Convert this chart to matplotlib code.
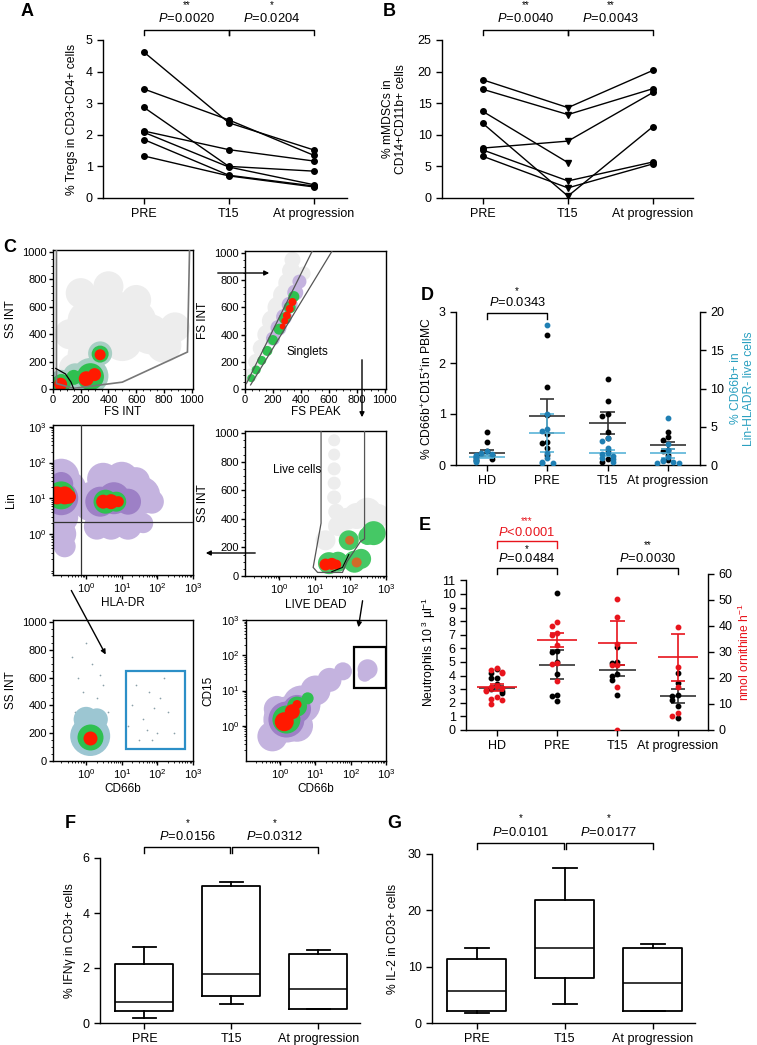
import numpy as np
import matplotlib
matplotlib.use("Agg")
import matplotlib.pyplot as plt
from matplotlib.patches import Polygon, Rectangle, FancyArrowPatch
from matplotlib.ticker import MultipleLocator
from matplotlib.transforms import blended_transform_factory

plt.rcParams['font.family'] = ['Liberation Sans', 'DejaVu Sans']
plt.rcParams['mathtext.fontset'] = 'custom'
plt.rcParams['mathtext.rm'] = 'Liberation Sans'
plt.rcParams['mathtext.it'] = 'Liberation Sans:italic'
plt.rcParams['mathtext.bf'] = 'Liberation Sans:bold'
plt.rcParams['axes.linewidth'] = 1.0
plt.rcParams['xtick.direction'] = 'out'
plt.rcParams['ytick.direction'] = 'out'

# ---------------- data ----------------
timepoints = ["PRE", "T15", "At progression"]
groups4 = ["HD", "PRE", "T15", "At progression"]

# A: % Tregs in CD3+CD4+ cells, one row per patient (PRE, T15, progression)
tregs = [[4.62, 2.38, 1.52],
         [3.45, 2.47, 1.35],
         [2.87, 1.00, 0.85],
         [2.12, 1.53, 1.17],
         [2.08, 0.98, 0.42],
         [1.85, 0.72, 0.38],
         [1.33, 0.70, 0.35]]

# B: % mMDSCs in CD14+CD11b+ cells
mdsc = [[18.7, 14.3, 20.2],
        [17.2, 13.2, 17.3],
        [7.9, 9.0, 16.7],
        [13.7, 5.6, np.nan],
        [11.8, 0.3, 11.3],
        [7.6, 2.7, 5.7],
        [6.6, 1.6, 5.4]]

# D: CD66b+CD15+ in PBMC (left, black) and CD66b+ in Lin-HLADR- (right, blue)
d_black = [[0.65, 0.45, 0.27, 0.22, 0.2, 0.18, 0.15, 0.12, 0.1],
           [2.55, 1.53, 0.98, 0.6, 0.45, 0.43, 0.33, 0.2],
           [1.69, 1.25, 1.0, 0.97, 0.65, 0.53, 0.3, 0.12, 0.05],
           [0.65, 0.55, 0.5, 0.3, 0.28, 0.2, 0.1]]
d_black_mean = [0.24, 0.96, 0.82, 0.39]
d_black_sem = [0.06, 0.33, 0.22, 0.07]
d_blue = [[1.8, 1.6, 1.5, 1.3, 1.2, 1.0, 0.9, 0.7, 0.5, 0.4],
          [18.3, 6.7, 4.7, 4.4, 1.6, 0.9, 0.4, 0.3, 0.2],
          [3.5, 3.2, 2.2, 1.6, 1.5, 1.2, 0.9, 0.8, 0.4],
          [6.1, 2.8, 1.9, 1.1, 0.7, 0.5, 0.4, 0.3, 0.3]]
d_blue_mean = [1.1, 4.2, 1.55, 1.55]
d_blue_sem = [0.2, 2.5, 0.35, 0.6]

# E: neutrophils (left, black) and arginase activity (right, red)
e_black = [[4.5, 4.2, 3.85, 3.85, 3.4, 3.1, 3.0, 2.9, 2.7],
           [10.1, 5.8, 5.75, 5.0, 4.1, 2.55, 2.5, 2.1],
           [6.1, 5.0, 4.95, 4.1, 4.0, 3.7, 2.55],
           [4.2, 3.45, 2.6, 2.5, 2.2, 1.8, 0.85]]
e_black_mean = [3.1, 4.8, 4.4, 2.5]
e_black_sem = [0.15, 1.05, 0.4, 0.55]
e_red = [[24, 23, 22.5, 22, 17, 16.5, 16, 15.5, 15, 12.7, 12, 11.5, 10],
         [41.5, 40, 37.3, 36.5, 32.7, 25.8, 25.5, 19],
         [50.4, 43.5, 33, 25, 25, 16.5, 0],
         [39.6, 24.2, 16.5, 6.5, 5.4]]
e_red_mean = [16.4, 34.6, 33.5, 28.0]
e_red_sem = [1.4, 2.6, 8.5, 9.0]

# F, G: box plot stats (whisker low, q1, median, q3, whisker high)
ifng_box = [[0.18, 0.45, 0.75, 2.15, 2.75],
            [0.68, 1.0, 1.78, 5.0, 5.12],
            [0.52, 0.52, 1.25, 2.5, 2.65]]
il2_box = [[1.8, 2.2, 5.6, 11.4, 13.4],
           [3.3, 7.9, 13.4, 21.8, 27.5],
           [2.2, 2.2, 7.1, 13.4, 14.0]]

# C: flow cytometry density clusters (x, y, diameter px), by density level
p1_haze = [(150, 150, 30), (250, 250, 40), (350, 400, 45), (250, 500, 40), (450, 550, 45),
           (600, 500, 40), (700, 400, 40), (800, 320, 35), (880, 450, 30), (500, 350, 40),
           (200, 700, 30), (400, 750, 30), (120, 400, 30), (600, 650, 30), (300, 620, 35)]
p1_teal = [(340, 260, 24), (270, 95, 36), (60, 45, 26), (160, 100, 24), (120, 60, 20)]
p1_green = [(340, 255, 17), (270, 90, 27), (60, 40, 19), (150, 85, 15)]
p1_red = [(340, 250, 11), (240, 75, 15), (300, 105, 13), (55, 35, 13)]

p2_haze = [(340, 950, 16), (330, 870, 18), (310, 780, 20), (280, 690, 22), (240, 600, 22),
           (200, 500, 22), (160, 400, 20), (120, 300, 18), (80, 200, 16), (40, 100, 14),
           (420, 850, 14)]
p2_purple = [(390, 790, 14), (360, 710, 16), (320, 620, 16), (280, 530, 16), (240, 450, 16),
             (200, 370, 14)]
p2_green = [(350, 680, 11), (320, 600, 12), (285, 520, 12), (245, 440, 11), (200, 360, 10),
            (160, 280, 10), (120, 210, 9), (80, 140, 9), (45, 80, 8)]
p2_red = [(340, 640, 8), (320, 590, 8), (300, 540, 8), (285, 500, 7), (270, 460, 6)]

p3_haze = [(0.2, 1, 30), (0.25, 0.45, 22), (0.2, 3, 34), (0.2, 10, 44), (0.2, 40, 36),
           (0.35, 20, 32), (2, 1.6, 26), (5, 1.7, 28), (15, 1.7, 28), (40, 2, 20),
           (1.5, 8, 40), (4, 12, 44), (12, 10, 46), (35, 12, 38), (70, 8, 24),
           (3, 35, 32), (10, 35, 34), (25, 30, 28)]
p3_purple = [(0.2, 10, 34), (0.2, 25, 24), (2.5, 8, 30), (6, 10, 32), (15, 8, 26)]
p3_green = [(0.2, 12, 28), (3.5, 8, 24), (7, 8, 20)]
p3_red = [(0.15, 12, 18), (0.25, 12, 18), (0.33, 11, 14), (3, 8, 14), (5, 8, 15), (8, 8, 11)]

p4_haze = [(35, 950, 12), (35, 850, 12), (35, 750, 13), (35, 650, 13), (35, 550, 14),
           (40, 450, 16), (45, 350, 20), (80, 400, 22), (150, 420, 26), (300, 450, 28),
           (600, 420, 24), (20, 250, 20)]
p4_green = [(25, 90, 22), (45, 100, 20), (90, 250, 20), (130, 100, 22), (200, 120, 20),
            (450, 300, 24), (300, 280, 18)]
p4_orange = [(95, 250, 9), (150, 95, 10)]
p4_red = [(20, 80, 12), (30, 85, 12), (40, 80, 10)]

p5_teal = [(1.3, 180, 40), (1.0, 300, 25), (2, 300, 22)]
p5_green = [(1.3, 170, 26)]
p5_red = [(1.3, 165, 14)]
p5_sparse = [(0.6, 600), (1.5, 700), (0.8, 500), (2, 450), (3, 550), (0.5, 350), (4, 350),
             (20, 400), (40, 300), (60, 500), (100, 200), (30, 150), (200, 350), (150, 600),
             (15, 250), (80, 380), (300, 200), (50, 220), (0.4, 750), (1, 850), (2.5, 620),
             (120, 450), (25, 550), (70, 150)]

p6_haze = [(0.6, 0.5, 30), (1.5, 1.5, 46), (4, 4, 38), (10, 10, 30), (25, 20, 24),
           (60, 35, 18), (3, 1, 32), (0.8, 3, 26), (300, 40, 20), (250, 28, 14)]
p6_purple = [(1.5, 1.5, 36), (3, 3, 28)]
p6_green = [(1.5, 1.5, 28), (3, 3.5, 20), (6, 6, 12)]
p6_red = [(1.3, 1.3, 19), (2.2, 2.5, 15), (3, 4, 9)]

# ---------------- helpers ----------------
W, H = 757, 1045
fig = plt.figure(figsize=(W / 100, H / 100), dpi=100)


def add_ax(l, t, r, b):
    return fig.add_axes([l / W, 1 - b / H, (r - l) / W, (b - t) / H])


def fy(ypx):
    return 1 - ypx / H


def ftext(xpx, ypx, s, **kw):
    fig.text(xpx / W, fy(ypx), s, ha='center', va='center', **kw)


def bracket(ax, x1, x2, ytop, ybot, color='k', lw=1.0):
    tr = blended_transform_factory(ax.transData, fig.transFigure)
    ax.plot([x1, x1, x2, x2], [fy(ybot), fy(ytop), fy(ytop), fy(ybot)], color=color,
             lw=lw, transform=tr, clip_on=False)


def btext(ax, x, ypx, s, color='k', fs=9.3):
    tr = blended_transform_factory(ax.transData, fig.transFigure)
    ax.text(x, fy(ypx), s, transform=tr, ha='center', va='center', fontsize=fs, color=color)


def clean(ax):
    ax.spines['top'].set_visible(False)
    ax.spines['right'].set_visible(False)
    ax.tick_params(length=4, width=1, labelsize=9)


def ylab(ax, xfrac, s, color='k', fs=8.7):
    ax.text(xfrac, 0.5, s, transform=ax.transAxes, rotation=90, ha='center',
            va='center', fontsize=fs, color=color, linespacing=1.1)


def swarm(vals, tol, step):
    pattern = [0, -1, 1, -2, 2, -3, 3, -4, 4]
    offs, placed = [], []
    for v in vals:
        k = sum(1 for p in placed if abs(p - v) < tol)
        offs.append(pattern[k % len(pattern)] * step)
        placed.append(v)
    return np.array(offs)


def blobs(ax, pts, color, alpha=1.0):
    ax.scatter([p[0] for p in pts], [p[1] for p in pts],
               s=[(0.72 * p[2]) ** 2 for p in pts], c=color, alpha=alpha,
               linewidths=0, zorder=2)


def flow_ax(rect, xlog, ylog, xlim, ylim):
    ax = add_ax(*rect)
    for a, log in ((ax.xaxis, xlog), (ax.yaxis, ylog)):
        if log:
            if a is ax.xaxis:
                ax.set_xscale('log')
            else:
                ax.set_yscale('log')
            a.set_ticks([1, 10, 100, 1000])
        else:
            a.set_ticks(range(0, 1001, 200))
            a.set_minor_locator(MultipleLocator(50))
    ax.set_xlim(*xlim)
    ax.set_ylim(*ylim)
    ax.tick_params(which='major', length=3, width=1, labelsize=8, pad=1.5)
    ax.tick_params(which='minor', length=1.5, width=0.6)
    return ax


def flab(ax, ylabel, xlabel, ylx=-0.3, xly=-0.165):
    ax.text(ylx, 0.5, ylabel, transform=ax.transAxes, rotation=90, ha='center',
            va='center', fontsize=8.5)
    ax.text(0.5, xly, xlabel, transform=ax.transAxes, ha='center', va='center', fontsize=8.5)


def arrow(x1, y1, x2, y2):
    fig.add_artist(FancyArrowPatch((x1 / W, fy(y1)), (x2 / W, fy(y2)),
                                   transform=fig.transFigure, arrowstyle='-|>',
                                   mutation_scale=7, lw=1, color='k'))


# ---------------- A ----------------
ax = add_ax(103, 40, 347, 198)
for row in tregs:
    ax.plot(range(3), row, '-o', color='k', ms=4, lw=1)
ax.set_xlim(-0.48, 2.39)
ax.set_ylim(0, 5)
ax.set_xticks(range(3))
ax.set_xticklabels(timepoints)
ax.set_yticks(range(6))
clean(ax)
ylab(ax, -0.125, "% Tregs in CD3+CD4+ cells")
bracket(ax, 0, 1, 30, 35)
bracket(ax, 1, 2, 30, 35)
btext(ax, 0.5, 19, "$P$=0.0020")
btext(ax, 1.5, 19, "$P$=0.0204")
btext(ax, 0.5, 5, "**", fs=7)
btext(ax, 1.5, 5, "*", fs=7)
ftext(27, 12, "A", fontsize=13, fontweight='bold')

# ---------------- B ----------------
ax = add_ax(442, 40, 693, 198)
for row in mdsc:
    ax.plot(range(3), row, '-', color='k', lw=1)
    ax.plot([0, 2], [row[0], row[2]], 'o', color='k', ms=4)
    ax.plot([1], [row[1]], 'v', color='k', ms=4)
ax.set_xlim(-0.48, 2.47)
ax.set_ylim(0, 25)
ax.set_xticks(range(3))
ax.set_xticklabels(timepoints)
ax.set_yticks(range(0, 26, 5))
clean(ax)
ylab(ax, -0.19, "% mMDSCs in\nCD14+CD11b+ cells")
bracket(ax, 0, 1, 30, 35)
bracket(ax, 1, 2, 30, 35)
btext(ax, 0.5, 19, "$P$=0.0040")
btext(ax, 1.5, 19, "$P$=0.0043")
btext(ax, 0.5, 5, "**", fs=7)
btext(ax, 1.5, 5, "**", fs=7)
ftext(389, 12, "B", fontsize=13, fontweight='bold')

# ---------------- C ----------------
ftext(10, 247, "C", fontsize=13, fontweight='bold')
haze = '#ededed'
lpurple = '#c4b3df'
purple = '#9d80c6'
green = '#2fc050'
red = '#ff1a00'

ax = flow_ax((53, 250, 193, 389), False, False, (0, 1010), (0, 1015))
blobs(ax, p1_haze, haze)
blobs(ax, p1_teal, '#a8cfc4')
blobs(ax, p1_green, green)
blobs(ax, p1_red, red)
ax.add_patch(Polygon([(25, 1015), (25, 40), (150, 5), (500, 50), (970, 270), (985, 1015)],
                     closed=False, fill=False, ec='#777777', lw=1.2, zorder=3))
ax.plot([20, 90, 130, 150], [150, 110, 50, 0], color='k', lw=0.9, zorder=3)
flab(ax, "SS INT", "FS INT")

ax = flow_ax((245, 251, 386, 389), False, False, (0, 1010), (0, 1015))
blobs(ax, p2_haze, haze)
blobs(ax, p2_purple, lpurple)
blobs(ax, p2_green, green)
blobs(ax, p2_red, red)
ax.plot([10, 482], [40, 1015], color='#555555', lw=0.9, zorder=3)
ax.plot([40, 624], [30, 1015], color='#555555', lw=0.9, zorder=3)
ax.text(300, 270, "Singlets", fontsize=8.5, ha='left', va='center')
flab(ax, "FS INT", "FS PEAK")

ax = flow_ax((53, 425, 193, 575), True, True, (10 ** -0.93, 1000), (10 ** -1.15, 10 ** 3.05))
blobs(ax, p3_haze, lpurple)
blobs(ax, p3_purple, purple)
blobs(ax, p3_green, green)
blobs(ax, p3_red, red)
ax.axvline(0.7, color='#333333', lw=0.9, zorder=3)
ax.axhline(2.1, color='#333333', lw=0.9, zorder=3)
flab(ax, "Lin", "HLA-DR", xly=-0.19)

ax = flow_ax((245, 431, 386, 576), True, False, (10 ** -0.96, 1000), (0, 1015))
blobs(ax, p4_haze, haze)
blobs(ax, p4_green, '#45c865')
blobs(ax, p4_orange, '#cf6a2a')
blobs(ax, p4_red, red)
ax.add_patch(Polygon([(15, 1015), (15, 370), (9, 60), (12, 25), (60, 25), (80, 100),
                      (190, 240), (250, 260), (250, 1015)], closed=False, fill=False,
                     ec='#555555', lw=0.9, zorder=3))
ax.plot([30, 60, 90], [30, 60, 150], color='k', lw=0.8, zorder=3)
ax.text(0.65, 740, "Live cells", fontsize=8.5, ha='left', va='center')
flab(ax, "SS INT", "LIVE DEAD", xly=-0.2)

ax = flow_ax((53, 620, 193, 761), True, False, (10 ** -0.93, 1000), (0, 1015))
ax.scatter([p[0] for p in p5_sparse], [p[1] for p in p5_sparse], s=1.5, c='#8aa0a8',
           linewidths=0, zorder=2)
blobs(ax, p5_teal, '#9cc6d2')
blobs(ax, p5_green, green)
blobs(ax, p5_red, red)
ax.add_patch(Rectangle((13, 85), 600 - 13, 645 - 85, fill=False, ec='#2c8fc7', lw=1.6, zorder=3))
flab(ax, "SS INT", "CD66b", xly=-0.2)

ax = flow_ax((246, 620, 386, 761), True, True, (10 ** -0.97, 1000), (0.1, 1000))
blobs(ax, p6_haze, lpurple)
blobs(ax, p6_purple, purple)
blobs(ax, p6_green, green)
blobs(ax, p6_red, red)
ax.add_patch(Rectangle((120, 12), 880, 158, fill=False, ec='k', lw=1.6, zorder=3))
flab(ax, "CD15", "CD66b", ylx=-0.27, xly=-0.2)

arrow(215, 273, 272, 273)
arrow(362, 357, 362, 420)
arrow(258, 553, 203, 553)
arrow(70, 588, 107, 657)
arrow(363, 598, 358, 630)

# ---------------- D ----------------
blue = '#1f7fb3'
lblue = '#5ab4d8'
ax = add_ax(456, 312, 700, 465)
ax.set_xlim(-0.51, 3.53)
ax.set_ylim(0, 3)
tw = ax.twinx()
tw.set_ylim(0, 20)
for i in range(4):
    v = np.array(d_black[i])
    ax.plot(i + swarm(v, 0.08, 0.09), v, 'o', color='k', ms=3.2, zorder=3)
    m, s = d_black_mean[i], d_black_sem[i]
    ax.hlines(m, i - 0.3, i + 0.3, color='#333333', lw=1.2)
    ax.vlines(i, m - s, m + s, color='#333333', lw=1.2)
    ax.hlines([m - s, m + s], i - 0.12, i + 0.12, color='#333333', lw=1.2)
    v = np.array(d_blue[i])
    tw.plot(i + swarm(v, 0.6, 0.09), v, 'o', color=blue, ms=3.2, zorder=3)
    m, s = d_blue_mean[i], d_blue_sem[i]
    tw.hlines(m, i - 0.3, i + 0.3, color=lblue, lw=1.2)
    tw.vlines(i, m - s, m + s, color=lblue, lw=1.2)
    tw.hlines([m - s, m + s], i - 0.12, i + 0.12, color=lblue, lw=1.2)
ax.set_xticks(range(4))
ax.set_xticklabels(groups4)
ax.set_yticks(range(4))
tw.set_yticks(range(0, 21, 5))
for a in (ax, tw):
    a.spines['top'].set_visible(False)
    a.tick_params(length=4, width=1, labelsize=9)
ax.spines['right'].set_visible(False)
tw.spines['left'].set_visible(False)
tw.spines['bottom'].set_visible(False)
ylab(ax, -0.12, "% CD66b$^{+}$CD15$^{+}$in PBMC")
ylab(ax, 1.175, "% CD66b+ in\nLin-HLADR- live cells", color='#2aa0c0')
bracket(ax, 0, 1, 313, 319)
btext(ax, 0.5, 303, "$P$=0.0343")
btext(ax, 0.5, 291, "*", fs=7)
ftext(427, 296, "D", fontsize=13, fontweight='bold')

# ---------------- E ----------------
ered = '#e8141c'
ax = add_ax(466, 574, 708, 730)
ax.set_xlim(-0.51, 3.5)
ax.set_ylim(0, 11.47)
tw = ax.twinx()
tw.set_ylim(0, 60)
for i in range(4):
    v = np.array(e_black[i])
    ax.plot(i + swarm(v, 0.3, 0.09), v, 'o', color='k', ms=3.2, zorder=3)
    m, s = e_black_mean[i], e_black_sem[i]
    ax.hlines(m, i - 0.3, i + 0.3, color='#333333', lw=1.2)
    ax.vlines(i, m - s, m + s, color='#333333', lw=1.2)
    ax.hlines([m - s, m + s], i - 0.12, i + 0.12, color='#333333', lw=1.2)
    v = np.array(e_red[i])
    tw.plot(i + swarm(v, 1.6, 0.09), v, 'o', color=ered, ms=3.2, zorder=3)
    m, s = e_red_mean[i], e_red_sem[i]
    tw.hlines(m, i - 0.33, i + 0.33, color=ered, lw=1.2)
    tw.vlines(i, m - s, m + s, color=ered, lw=1.2)
    tw.hlines([m - s, m + s], i - 0.12, i + 0.12, color=ered, lw=1.2)
ax.set_xticks(range(4))
ax.set_xticklabels(groups4)
ax.set_yticks(range(12))
tw.set_yticks(range(0, 61, 10))
ax.spines['left'].set_bounds(0, 11)
for a in (ax, tw):
    a.spines['top'].set_visible(False)
    a.tick_params(length=4, width=1, labelsize=9)
ax.spines['right'].set_visible(False)
tw.spines['left'].set_visible(False)
tw.spines['bottom'].set_visible(False)
ylab(ax, -0.155, "Neutrophils 10$^{\\ 3}$ µl$^{-1}$")
ylab(ax, 1.15, "nmol ornithine h$^{-1}$", color=ered)
bracket(ax, 0, 1, 568, 574)
btext(ax, 0.5, 559, "$P$=0.0484")
btext(ax, 0.5, 549, "*", fs=7)
bracket(ax, 0, 1, 541, 548, color=ered)
btext(ax, 0.5, 532, "$P$<0.0001", color=ered)
btext(ax, 0.5, 521, "***", color=ered, fs=7)
bracket(ax, 2, 3, 568, 574)
btext(ax, 2.5, 558, "$P$=0.0030")
btext(ax, 2.5, 545, "**", fs=7)
ftext(425, 526, "E", fontsize=13, fontweight='bold')


# ---------------- F, G ----------------
def boxes(ax, data):
    stats = [dict(whislo=d[0], q1=d[1], med=d[2], q3=d[3], whishi=d[4], fliers=[]) for d in data]
    ax.bxp(stats, positions=range(3), widths=0.67, capwidths=0.27, showfliers=False,
           boxprops=dict(lw=1.3), whiskerprops=dict(lw=1.3), capprops=dict(lw=1.3),
           medianprops=dict(color='k', lw=1.1))


ax = add_ax(100, 858, 360, 1023)
boxes(ax, ifng_box)
ax.set_xlim(-0.51, 2.48)
ax.set_ylim(0, 6)
ax.set_xticks(range(3))
ax.set_xticklabels(timepoints)
ax.set_yticks([0, 2, 4, 6])
clean(ax)
ylab(ax, -0.115, "% IFNγ in CD3+ cells")
bracket(ax, 0, 0.99, 847, 853)
bracket(ax, 1.01, 2, 847, 853)
btext(ax, 0.5, 837, "$P$=0.0156")
btext(ax, 1.5, 837, "$P$=0.0312")
btext(ax, 0.5, 823, "*", fs=7)
btext(ax, 1.5, 823, "*", fs=7)
ftext(70, 823, "F", fontsize=13, fontweight='bold')

ax = add_ax(432, 854, 695, 1023)
boxes(ax, il2_box)
ax.set_xlim(-0.51, 2.48)
ax.set_ylim(0, 30)
ax.set_xticks(range(3))
ax.set_xticklabels(timepoints)
ax.set_yticks([0, 10, 20, 30])
clean(ax)
ylab(ax, -0.15, "% IL-2 in CD3+ cells")
bracket(ax, 0, 0.99, 843, 849)
bracket(ax, 1.01, 2, 843, 849)
btext(ax, 0.5, 833, "$P$=0.0101")
btext(ax, 1.5, 833, "$P$=0.0177")
btext(ax, 0.5, 818, "*", fs=7)
btext(ax, 1.5, 818, "*", fs=7)
ftext(394, 824, "G", fontsize=13, fontweight='bold')

fig.savefig("out.png", dpi=100)
